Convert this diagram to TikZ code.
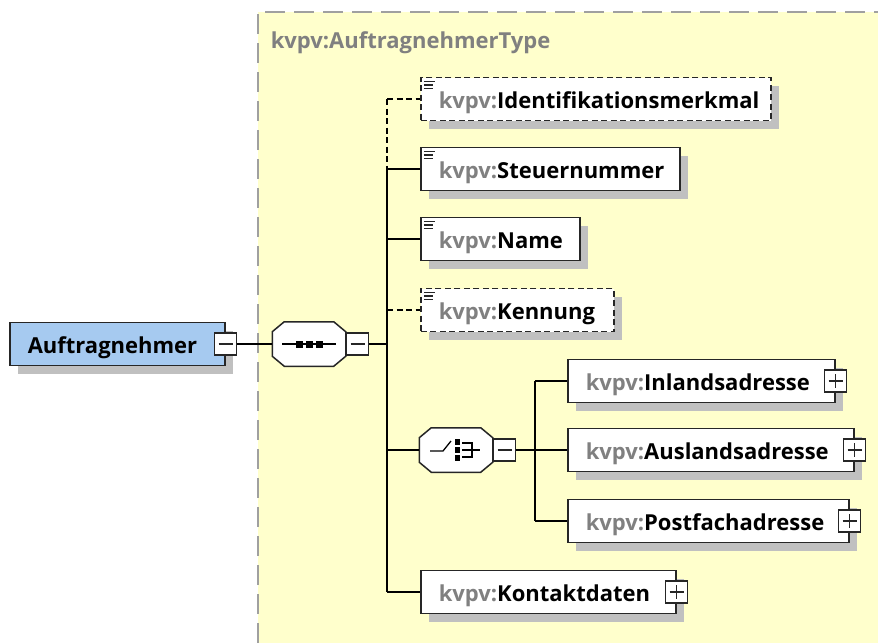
\documentclass[tikz,border=0pt]{standalone}
\usepackage{fontspec}
\setmainfont{Open Sans}
\usetikzlibrary{positioning}
\usetikzlibrary{shadows}

\definecolor{typebg}{RGB}{255,255,204}
\definecolor{elemblue}{RGB}{166,202,240}
\definecolor{shadowgray}{RGB}{192,192,192}
\definecolor{nsgray}{RGB}{128,128,128}
\definecolor{framegray}{RGB}{160,160,160}

\newcommand{\kv}{\textcolor{nsgray}{kvpv:}}
% octagon round a placed node
\newcommand{\octpath}[1]{([xshift=12pt]#1.north west) -- ([xshift=-12pt]#1.north east)
  -- ([yshift=-10pt]#1.north east) -- ([yshift=10pt]#1.south east)
  -- ([xshift=-12pt]#1.south east) -- ([xshift=12pt]#1.south west)
  -- ([yshift=10pt]#1.south west) -- ([yshift=-10pt]#1.north west) -- cycle}

\begin{document}
\begin{tikzpicture}[x=1pt, y=-1pt, line width=1.5pt,
  font=\fontsize{22}{26}\selectfont\bfseries,
  boxshadow/.style={drop shadow={shadow xshift=8pt, shadow yshift=-8pt, fill=shadowgray, opacity=1}},
  elem/.style={draw=black!85, fill=white, rectangle, anchor=west, minimum height=43pt,
    inner xsep=18pt, inner ysep=0pt, text width=#1, text height=18pt, text depth=0pt,
    align=left, boxshadow},
  opt/.style={dashed, dash pattern=on 6pt off 3.5pt},
  simple/.style={path picture={
    \draw[solid, line width=1.2pt] ([shift={(3,4)}]path picture bounding box.north west) -- ++(11,0);
    \draw[solid, line width=1.2pt] ([shift={(3,7.5)}]path picture bounding box.north west) -- ++(9,0);
    \draw[solid, line width=1.2pt] ([shift={(3,11)}]path picture bounding box.north west) -- ++(9,0);}},
  octa/.style={rectangle, minimum width=72pt, minimum height=43pt, inner sep=0pt},
  toggle/.style={draw=black!85, fill=white, rectangle, minimum size=22pt, inner sep=0pt},
  minus/.style={toggle, path picture={
    \draw[line width=1.3pt] ([xshift=4pt]path picture bounding box.west) -- ([xshift=-4pt]path picture bounding box.east);}},
  plus/.style={toggle, path picture={
    \draw[line width=1.3pt] ([xshift=4pt]path picture bounding box.west) -- ([xshift=-4pt]path picture bounding box.east);
    \draw[line width=1.3pt] ([yshift=-4pt]path picture bounding box.north) -- ([yshift=4pt]path picture bounding box.south);}}
]
\useasboundingbox (0,0) rectangle (878,643);
% complex type area
\fill[typebg] (258,12) rectangle (878,643);
\draw[framegray, line width=2pt, dash pattern=on 20pt off 9pt] (258,643) -- (258,12) -- (878,12);
\node[anchor=west, inner sep=0pt, text=nsgray] (typename) at (270,43) {kvpv:AuftragnehmerType};

% root element
\node[elem=179pt, fill=elemblue] (auftrag) at (9,344) {Auftragnehmer};
\node[minus] (auftragminus) at (auftrag.east) {};

% sequence
\node[octa] (seq) at (309,344) {};
\fill[shadowgray, shift={(8,8)}] \octpath{seq};
\filldraw[draw=black!85, fill=white] \octpath{seq};
\node[minus, anchor=west] (seqminus) at (seq.east) {};
\draw ([xshift=10pt]seq.west) -- ([xshift=-10pt]seq.east);
\foreach \dx in {-10,0,10}
  \fill ([xshift=\dx pt]seq.center) ++(-3.5,-3.5) rectangle ++(7,7);

% sequence children
\node[elem=314pt, opt, simple] (ident) at (420,99) {\kv Identifikationsmerkmal};
\node[elem=223pt, simple] (steuer) at (420,169) {\kv Steuernummer};
\node[elem=123pt, simple] (name) at (420,239) {\kv Name};
\node[elem=157pt, opt, simple] (kennung) at (420,310) {\kv Kennung};
\node[octa] (choice) at (456,450) {};
\fill[shadowgray, shift={(8,8)}] \octpath{choice};
\filldraw[draw=black!85, fill=white] \octpath{choice};
\node[minus, anchor=west] (choiceminus) at (choice.east) {};
\node[elem=219pt] (kontakt) at (420,592) {\kv Kontaktdaten};
\node[plus] (kontaktplus) at (kontakt.east) {};

% choice symbol
\draw[line width=1.3pt] ([shift={(-26,1)}]choice.center) -- ++(13,0) -- ++(8,-10);
\foreach \dy in {-8,0,8}
  \fill ([shift={(1,\dy)}]choice.center) ++(-2.5,-3) rectangle ++(5,6);
\draw[line width=1.3pt] ([shift={(6,-7)}]choice.center) -- ++(10,0) -- ++(0,14) -- ++(-10,0);
\draw[line width=1.3pt] ([shift={(6,0)}]choice.center) -- ++(18,0);

% choice children
\node[elem=231pt] (inland) at (567,381) {\kv Inlandsadresse};
\node[plus] (inlandplus) at (inland.east) {};
\node[elem=250pt] (ausland) at (567,450) {\kv Auslandsadresse};
\node[plus] (auslandplus) at (ausland.east) {};
\node[elem=245pt] (postfach) at (567,521) {\kv Postfachadresse};
\node[plus] (postfachplus) at (postfach.east) {};

% connectors
\coordinate (trunktop) at (387,99);
\coordinate (trunkbot) at (387,592);
\coordinate (branch) at (535,450);
\draw (auftragminus) -- (seq);
\draw (seqminus.east) -- (seqminus.east -| trunktop);
\draw[opt] (trunktop) -- (ident.west);
\draw[opt] (trunktop) -- (trunktop |- steuer);
\draw (trunktop |- steuer) -- (trunkbot);
\draw (trunktop |- steuer) -- (steuer.west);
\draw (trunktop |- name) -- (name.west);
\draw[opt] (trunktop |- kennung) -- (kennung.west);
\draw (trunktop |- choice) -- (choice.west);
\draw (trunkbot) -- (kontakt.west);
\draw (choiceminus.east) -- (branch);
\draw (branch |- inland) -- (branch |- postfach);
\draw (branch |- inland) -- (inland.west);
\draw (branch) -- (ausland.west);
\draw (branch |- postfach) -- (postfach.west);
\end{tikzpicture}
\end{document}
